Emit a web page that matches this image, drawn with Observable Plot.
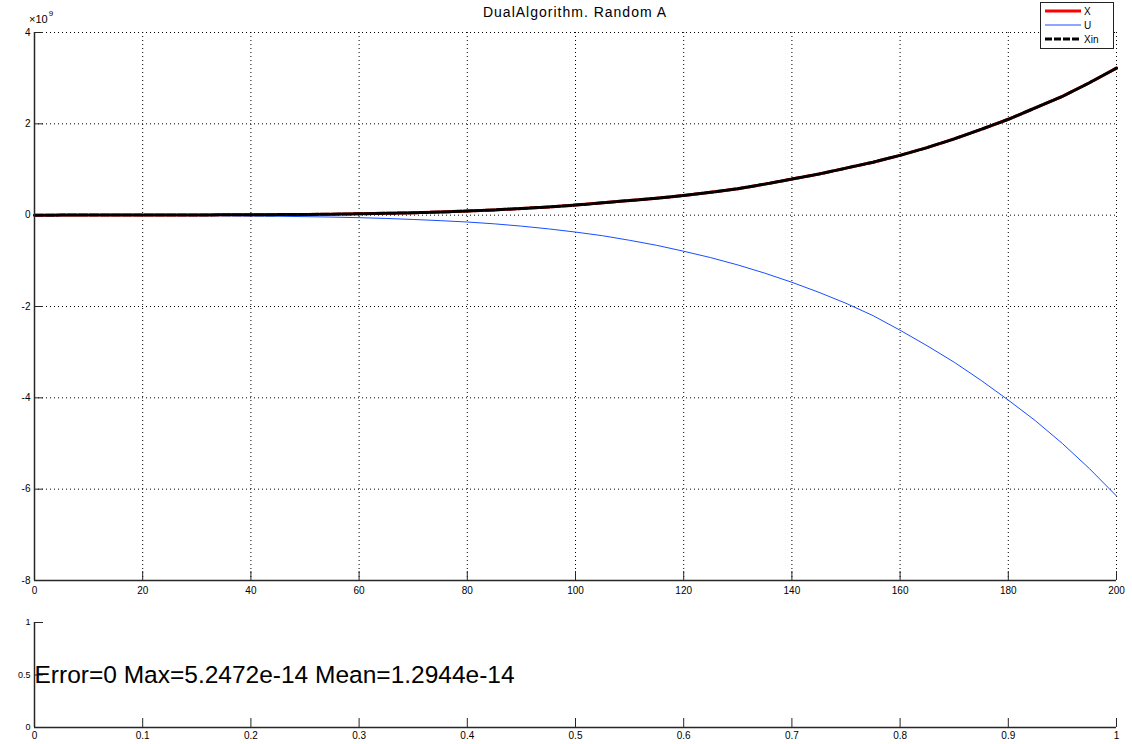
<!DOCTYPE html>
<html>
<head>
<meta charset="utf-8">
<script src="https://cdn.jsdelivr.net/npm/d3@7"></script>
<script src="https://cdn.jsdelivr.net/npm/@observablehq/plot@0.6"></script>
<style>
  body { margin: 0; background: #fff; }
  #wrap { position: relative; width: 1132px; height: 744px; font-family: "Liberation Sans", Arial, sans-serif; }
  #topChart, #bottomChart { position: absolute; left: 0; }
  #topChart { top: 0; }
  #bottomChart { top: 600px; }
  .title { position: absolute; top: 4px; left: 34px; width: 1082px; text-align: center; font-size: 14px; letter-spacing: 1px; color: #000; }
  .expo { position: absolute; left: 29px; top: 11px; font-size: 11px; color: #000; }
  .expo sup { font-size: 8px; position: relative; top: -2px; margin-left: 1px; }
  .legend { position: absolute; left: 1040px; top: 2px; width: 72px; height: 45px; border: 1px solid #222; background: #fff; font-size: 10px; }
  .legend .row { position: absolute; left: 2px; height: 12px; display: flex; align-items: center; }
</style>
</head>
<body>
<div id="wrap">
  <div id="topChart"></div>
  <div id="bottomChart"></div>
  <div class="title">DualAlgorithm. Random A</div>
  <div class="expo">×10<sup>9</sup></div>
  <div class="legend" id="legend"></div>
</div>
<script>
// ---- data (values in units of 1e9) ----
const steps = [0,5,10,15,20,25,30,35,40,45,50,55,60,65,70,75,80,85,90,95,100,105,110,115,120,125,130,135,140,145,150,155,160,165,170,175,180,185,190,195,200];
const seriesX = [0,0.001,0.001,0.002,0.003,0.004,0.005,0.007,0.009,0.012,0.016,0.022,0.03,0.04,0.052,0.068,0.09,0.115,0.145,0.18,0.22,0.27,0.32,0.37,0.43,0.5,0.58,0.68,0.79,0.9,1.03,1.16,1.31,1.48,1.67,1.88,2.1,2.35,2.6,2.9,3.22];
const seriesU = [0,-0.001,-0.002,-0.003,-0.005,-0.007,-0.01,-0.013,-0.018,-0.024,-0.032,-0.042,-0.055,-0.072,-0.094,-0.12,-0.15,-0.19,-0.24,-0.3,-0.37,-0.45,-0.55,-0.66,-0.79,-0.93,-1.09,-1.27,-1.47,-1.69,-1.93,-2.2,-2.52,-2.86,-3.22,-3.62,-4.05,-4.5,-5.0,-5.55,-6.15];
const seriesXin = [0,0.001,0.001,0.002,0.003,0.004,0.005,0.007,0.009,0.012,0.016,0.022,0.03,0.04,0.052,0.068,0.09,0.115,0.145,0.18,0.22,0.27,0.32,0.37,0.43,0.5,0.58,0.68,0.79,0.9,1.03,1.16,1.31,1.48,1.67,1.88,2.1,2.35,2.6,2.9,3.22];
const xTicks = [0,20,40,60,80,100,120,140,160,180,200];
const yTicks = [-8,-6,-4,-2,0,2,4];
const legendNames = ["X", "U", "Xin"];
const legendColors = ["#ff0000", "#1a4dff", "#000000"];
const errorText = "Error=0 Max=5.2472e-14 Mean=1.2944e-14";
const bxTicks = [0,0.1,0.2,0.3,0.4,0.5,0.6,0.7,0.8,0.9,1];
const byTicks = [0,0.5,1];

(function () {
const rowsX = steps.map((s,i) => ({s, v: seriesX[i]}));
const rowsU = steps.map((s,i) => ({s, v: seriesU[i]}));
const rowsXin = steps.map((s,i) => ({s, v: seriesXin[i]}));

const axisColor = "#262626";
const W = 1132, H = 600;
const mL = 34, mR = 16, mT = 32, mB = 20;
const fh = H - mT - mB, fw = W - mL - mR;

const chartTop = Plot.plot({
  width: W, height: H,
  marginLeft: mL, marginRight: mR, marginTop: mT, marginBottom: mB,
  style: {fontFamily: "'Liberation Sans', Arial, sans-serif", fontSize: "10px", color: "#000", background: "#fff", overflow: "visible"},
  x: {domain: [0, 200], ticks: xTicks, label: null},
  y: {domain: [-8, 4], ticks: yTicks, label: null},
  marks: [
    Plot.ruleX(xTicks.filter(d => d > 0), {x: d => d, stroke: "#000", strokeWidth: 1, strokeDasharray: "1,3"}),
    Plot.ruleY(yTicks.filter(d => d > -8), {y: d => d, stroke: "#000", strokeWidth: 1, strokeDasharray: "1,3"}),
    Plot.tickX(xTicks, {x: d => d, stroke: axisColor, insetTop: fh - 9}),
    Plot.tickY(yTicks, {y: d => d, stroke: axisColor, insetRight: fw - 9}),
    Plot.line(rowsX, {x: "s", y: "v", stroke: legendColors[0], strokeWidth: 3}),
    Plot.line(rowsU, {x: "s", y: "v", stroke: legendColors[1], strokeWidth: 1}),
    Plot.line(rowsXin, {x: "s", y: "v", stroke: legendColors[2], strokeWidth: 3, strokeDasharray: "9,2"}),
    Plot.ruleX([0], {stroke: axisColor, strokeWidth: 1.5}),
    Plot.ruleY([-8], {stroke: axisColor, strokeWidth: 1.5}),
    Plot.axisX({ticks: xTicks, tickSize: 0, tickPadding: 6, tickFormat: d => String(d), label: null}),
    Plot.axisY({ticks: yTicks, tickSize: 0, tickPadding: 4, tickFormat: d => String(d), label: null})
  ]
});
document.getElementById("topChart").appendChild(chartTop);

const chartBottom = Plot.plot({
  width: W, height: 144,
  marginLeft: mL, marginRight: mR, marginTop: 22, marginBottom: 17,
  style: {fontFamily: "'Liberation Sans', Arial, sans-serif", fontSize: "10px", color: "#000", background: "#fff", overflow: "visible"},
  x: {domain: [0, 1], ticks: bxTicks, label: null},
  y: {domain: [0, 1], ticks: byTicks, label: null},
  marks: [
    Plot.tickX(bxTicks, {x: d => d, stroke: axisColor, insetTop: 105 - 9}),
    Plot.tickY(byTicks, {y: d => d, stroke: axisColor, insetRight: fw - 9}),
    Plot.ruleX([0], {stroke: axisColor, strokeWidth: 1.5}),
    Plot.ruleY([0], {stroke: axisColor, strokeWidth: 1.5}),
    Plot.text([errorText], {x: 0, y: 0.5, text: d => d, textAnchor: "start", fontSize: 24.5, fill: "#000", dx: 0}),
    Plot.axisX({ticks: bxTicks, tickSize: 0, tickPadding: 4, tickFormat: d => String(d), fontSize: 10, label: null}),
    Plot.axisY({ticks: byTicks, tickSize: 0, tickPadding: 4, tickFormat: d => String(d), fontSize: 9, label: null})
  ]
});
document.getElementById("bottomChart").appendChild(chartBottom);

// legend
const lg = document.getElementById("legend");
legendNames.forEach((name, i) => {
  const row = document.createElement("div");
  row.className = "row";
  row.style.top = (2 + i * 14) + "px";
  const dash = i === 2 ? ' stroke-dasharray="7,2"' : '';
  const sw = i === 1 ? 1 : 3;
  row.innerHTML = `<svg width="40" height="12"><line x1="2" x2="38" y1="6" y2="6" stroke="${legendColors[i]}" stroke-width="${sw}"${dash}/></svg><span style="margin-left:1px">${name}</span>`;
  lg.appendChild(row);
});
})();
</script>
</body>
</html>
